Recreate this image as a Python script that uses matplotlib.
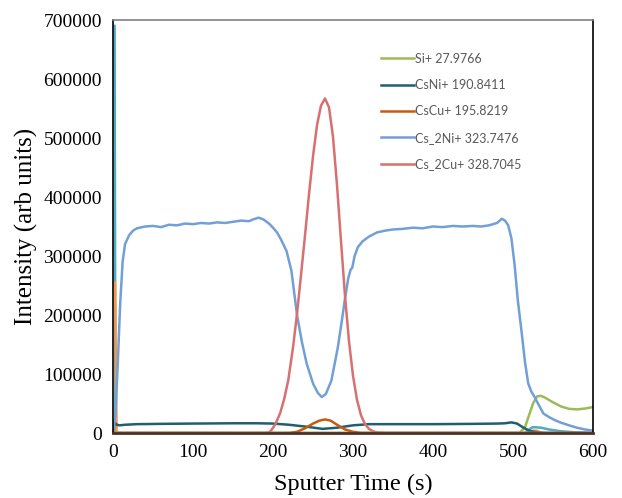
import matplotlib
matplotlib.use("Agg")
import matplotlib.pyplot as plt

# ---- data ----
t_si = [0, 500, 508, 515, 520, 525, 530, 535, 540, 550, 560, 570, 580, 590, 600]
si = [0, 0, 0, 10000, 30000, 50000, 62000, 63000, 60000, 52000, 45000, 41000, 40000, 41500, 44000]

t_csni = [0, 2, 5, 8, 15, 30, 60, 100, 150, 180, 200, 220, 240, 262, 280, 300, 320,
          360, 400, 450, 480, 490, 498, 505, 512, 520, 530, 540, 600]
csni = [2000, 17000, 14000, 13000, 14000, 15000, 15500, 16000, 16500, 16500, 16000, 14000,
        11000, 7000, 9000, 13000, 15000, 15000, 15000, 15500, 16000, 16500, 18000, 16000,
        10000, 4000, 1000, 0, 0]

t_cscu = [0, 220, 230, 240, 250, 258, 265, 272, 280, 290, 300, 310, 600]
cscu = [0, 0, 2000, 8000, 16000, 21000, 23000, 21000, 14000, 6000, 2000, 0, 0]

t_cs2ni = [0, 3, 6, 9, 12, 15, 20, 25, 30, 40, 50, 60, 70, 80, 90, 100, 110, 120, 130, 140,
           150, 160, 170, 175, 182, 188, 195, 200, 205, 210, 217, 223, 230, 236, 242, 250,
           256, 261, 266, 273, 281, 286, 290, 294, 297, 299, 302, 306, 312, 320, 330, 340,
           350, 362, 375, 387, 400, 412, 425, 437, 450, 460, 470, 480, 486, 490, 494, 498,
           502, 506, 511, 515, 519, 523, 527, 532, 538, 545, 552, 559, 570, 580, 590, 600]
cs2ni = [0, 30000, 120000, 220000, 290000, 320000, 335000, 343000, 347000, 350000, 351000,
         349000, 353000, 352000, 355000, 354000, 356000, 355000, 357000, 356000, 358000,
         360000, 359000, 362000, 365000, 362000, 355000, 348000, 340000, 328000, 308000,
         275000, 200000, 155000, 118000, 84000, 68000, 61000, 66000, 89000, 145000, 190000,
         228000, 262000, 277000, 280000, 300000, 315000, 325000, 333000, 340000, 343000,
         345000, 346000, 348000, 347000, 350000, 349000, 351000, 350000, 351000, 350000,
         352000, 356000, 363000, 360000, 352000, 330000, 285000, 225000, 168000, 120000,
         84000, 70000, 61000, 48000, 33000, 27000, 22000, 18000, 13000, 9000, 6000, 4000]

t_cs2cu = [0, 190, 195, 198, 203, 209, 214, 219, 225, 230, 235, 240, 245, 250, 255, 260,
           265, 270, 275, 280, 285, 290, 295, 300, 305, 310, 315, 320, 325, 330, 340, 600]
cs2cu = [0, 0, 1000, 5000, 15000, 34000, 58000, 89000, 145000, 202000, 268000, 335000,
         405000, 469000, 522000, 555000, 567000, 552000, 502000, 420000, 325000, 232000,
         155000, 97000, 56000, 30000, 15000, 7000, 3000, 1000, 0, 0]

t_cyan = [2, 3, 4.5, 515, 520, 525, 535, 545, 560, 580, 600]
cyan = [690000, 2000, 0, 0, 6000, 10000, 9000, 6000, 3000, 1000, 0]

t_orange = [2.5, 4.5, 6, 520, 525, 530, 535, 600]
orange = [255000, 2000, 0, 0, 4000, 4000, 0, 0]

labels = ["Si+ 27.9766", "CsNi+ 190.8411", "CsCu+ 195.8219",
          "Cs_2Ni+ 323.7476", "Cs_2Cu+ 328.7045"]
x_ticks = [0, 100, 200, 300, 400, 500, 600]
y_ticks = [0, 100000, 200000, 300000, 400000, 500000, 600000, 700000]

# ---- plot ----
fig = plt.figure(figsize=(6.22, 4.98), dpi=100)
ax = fig.add_axes([0.1817, 0.1305, 0.7717, 0.8293])

lw = 1.8
ax.plot(t_cyan, cyan, color="#4bacc6", lw=lw)
ax.plot(t_orange, orange, color="#f79646", lw=lw)
ax.plot(t_si, si, color="#9bbb59", lw=lw, label=labels[0])
ax.plot(t_csni, csni, color="#215f6e", lw=lw, label=labels[1])
ax.plot(t_cscu, cscu, color="#c55a11", lw=lw, label=labels[2])
ax.plot(t_cs2ni, cs2ni, color="#729fd6", lw=lw, label=labels[3])
ax.plot(t_cs2cu, cs2cu, color="#d77070", lw=lw, label=labels[4])

ax.set_xlim(0, 600)
ax.set_ylim(0, 700000)
ax.set_xticks(x_ticks)
ax.set_yticks(y_ticks)
ax.set_xticklabels([str(v) for v in x_ticks])
ax.set_yticklabels([str(v) for v in y_ticks])
ax.tick_params(length=0, labelsize=14, pad=8)
for lab in ax.get_xticklabels() + ax.get_yticklabels():
    lab.set_fontfamily("Liberation Serif")

ax.set_xlabel("Sputter Time (s)", fontsize=17.5, family="Liberation Serif", labelpad=9)
ax.set_ylabel("Intensity (arb units)", fontsize=18, family="Liberation Serif", labelpad=4)

ax.spines["top"].set_color("#808080")
ax.spines["right"].set_color("#000000")
ax.spines["left"].set_color("#000000")
ax.spines["bottom"].set_color("#4a3228")
ax.spines["bottom"].set_linewidth(2)
ax.spines["left"].set_linewidth(1.2)
ax.spines["right"].set_linewidth(1.2)
ax.spines["top"].set_linewidth(1.2)

leg = ax.legend(loc="upper left", bbox_to_anchor=(0.548, 0.933), frameon=False,
                prop={"family": "Lato", "size": 9}, handlelength=2.6,
                handletextpad=0.15, labelspacing=1.15, borderaxespad=0)
for txt in leg.get_texts():
    txt.set_color("#595959")

fig.savefig("out.png", dpi=100)
